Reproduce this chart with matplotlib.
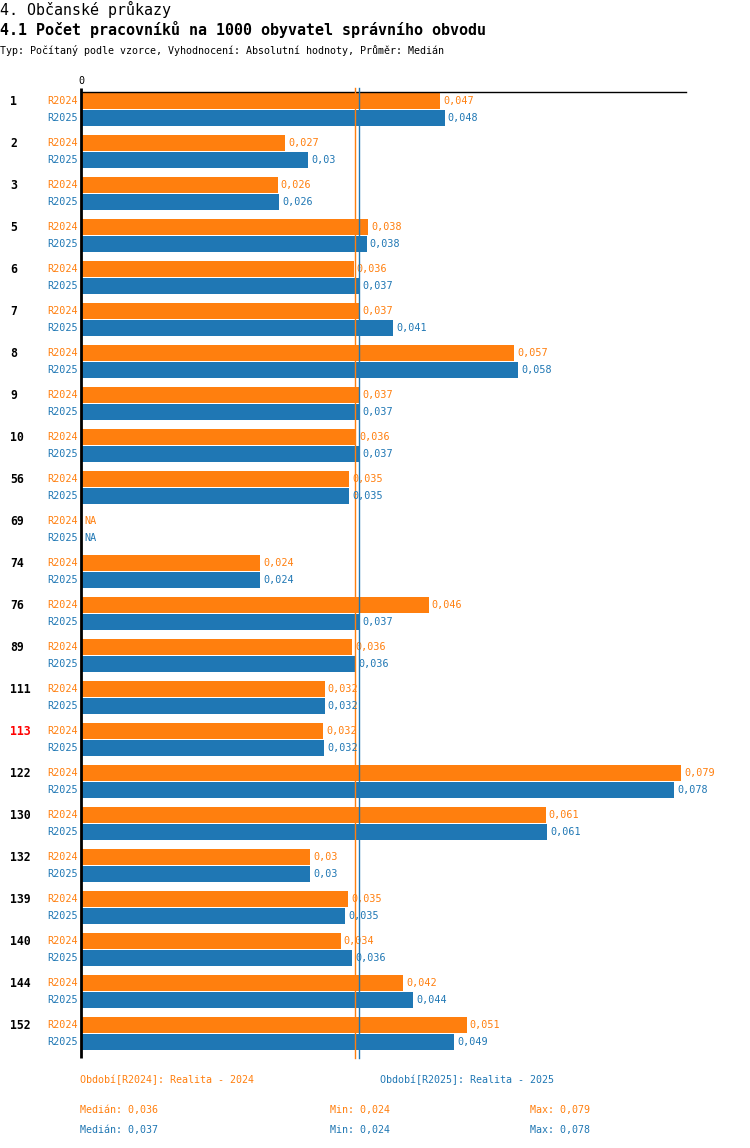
import matplotlib
matplotlib.use("Agg")
import matplotlib.pyplot as plt
import numpy as np

plt.rcParams['font.family'] = ['DejaVu Sans Mono', 'DejaVu Sans']

categories = ["1", "2", "3", "5", "6", "7", "8", "9", "10", "56", "69", "74", "76",
              "89", "111", "113", "122", "130", "132", "139", "140", "144", "152"]
highlight = "113"
r2024 = [0.0473, 0.0269, 0.0259, 0.0378, 0.0359, 0.0366, 0.0570, 0.0366, 0.0362, 0.0353,
         np.nan, 0.0236, 0.0458, 0.0357, 0.0321, 0.0319, 0.0790, 0.0612, 0.0302, 0.0352,
         0.0342, 0.0424, 0.0508]
r2025 = [0.0479, 0.0299, 0.0261, 0.0376, 0.0366, 0.0411, 0.0576, 0.0367, 0.0366, 0.0353,
         np.nan, 0.0236, 0.0366, 0.0361, 0.0321, 0.0320, 0.0781, 0.0614, 0.0302, 0.0348,
         0.0357, 0.0437, 0.0491]
series_names = ["R2024", "R2025"]
legend_texts = ["Období[R2024]: Realita - 2024", "Období[R2025]: Realita - 2025"]

ORANGE = "#ff7f0e"
BLUE = "#1f77b4"
colors = [ORANGE, BLUE]

W, H = 750, 1148
fig = plt.figure(figsize=(W / 100, H / 100), dpi=100)

def fx(x):
    return x / W

def fy(y):
    return 1 - y / H

ax_left, ax_right, ax_top, ax_bot = 81, 686, 92, 1058
ax = fig.add_axes([fx(ax_left), fy(ax_bot), (ax_right - ax_left) / W, (ax_bot - ax_top) / H])
n = len(categories)
ax.set_xlim(0, (ax_right - ax_left) / 7595)
ax.set_ylim(n, 0)
ax.set_xticks([])
ax.set_yticks([])
for s in ["right", "bottom"]:
    ax.spines[s].set_visible(False)
ax.spines["top"].set_linewidth(1)
ax.spines["left"].set_visible(False)

# left axis line extending slightly above
ax.plot([0, 0], [n, -4 / 42], color="black", lw=2, clip_on=False, solid_capstyle="butt", zorder=5)

offsets = [0.22, 0.625]
bh = 0.39

def fmt(v):
    s = f"{v:.3f}".rstrip("0").rstrip(".")
    return s.replace(".", ",")

for si, data in enumerate([r2024, r2025]):
    arr = np.array(data, dtype=float)
    ys = np.arange(n) + offsets[si]
    vals = np.nan_to_num(arr, nan=0.0)
    ax.barh(ys, vals, height=bh, color=colors[si], zorder=2)
    for y, v in zip(ys, arr):
        label = "NA" if np.isnan(v) else fmt(v)
        xv = 0 if np.isnan(v) else v
        ax.annotate(label, xy=(xv, y), xytext=(3, 0), textcoords="offset pixels",
                    ha="left", va="center", fontsize=7.3, color=colors[si])
        ax.annotate(series_names[si], xy=(0, y), xytext=(-3, 0), textcoords="offset pixels",
                    ha="right", va="center", fontsize=7.3, color=colors[si], annotation_clip=False)
    med = np.nanmedian(arr)
    ax.plot([med, med], [n, -4 / 42], color=colors[si], lw=1, clip_on=False, zorder=3)

for i, c in enumerate(categories):
    ax.annotate(c, xy=(0, i + offsets[0]), xycoords="data",
                xytext=(10 - ax_left, 0), textcoords="offset pixels",
                ha="left", va="center", fontsize=8.3, fontweight="bold",
                color="red" if c == highlight else "black", annotation_clip=False)

fig.text(fx(81), fy(81), "0", ha="center", va="center", fontsize=7.3)

fig.text(fx(0), fy(9), "4. Občanské průkazy", ha="left", va="center", fontsize=10.8)
fig.text(fx(0), fy(30), "4.1 Počet pracovníků na 1000 obyvatel správního obvodu",
         ha="left", va="center", fontsize=10.8, fontweight="bold")
fig.text(fx(0), fy(51), "Typ: Počítaný podle vzorce, Vyhodnocení: Absolutní hodnoty, Průměr: Medián",
         ha="left", va="center", fontsize=7.2)

fig.text(fx(80), fy(1080), legend_texts[0], ha="left", va="center", fontsize=7.2, color=ORANGE)
fig.text(fx(380), fy(1080), legend_texts[1], ha="left", va="center", fontsize=7.2, color=BLUE)

for si, data in enumerate([r2024, r2025]):
    arr = np.array(data, dtype=float)
    yy = 1110 + 20 * si
    fig.text(fx(80), fy(yy), f"Medián: {fmt(np.nanmedian(arr))}", ha="left", va="center",
             fontsize=7.2, color=colors[si])
    fig.text(fx(330), fy(yy), f"Min: {fmt(np.nanmin(arr))}", ha="left", va="center",
             fontsize=7.2, color=colors[si])
    fig.text(fx(530), fy(yy), f"Max: {fmt(np.nanmax(arr))}", ha="left", va="center",
             fontsize=7.2, color=colors[si])

fig.savefig("out.png", dpi=100)
